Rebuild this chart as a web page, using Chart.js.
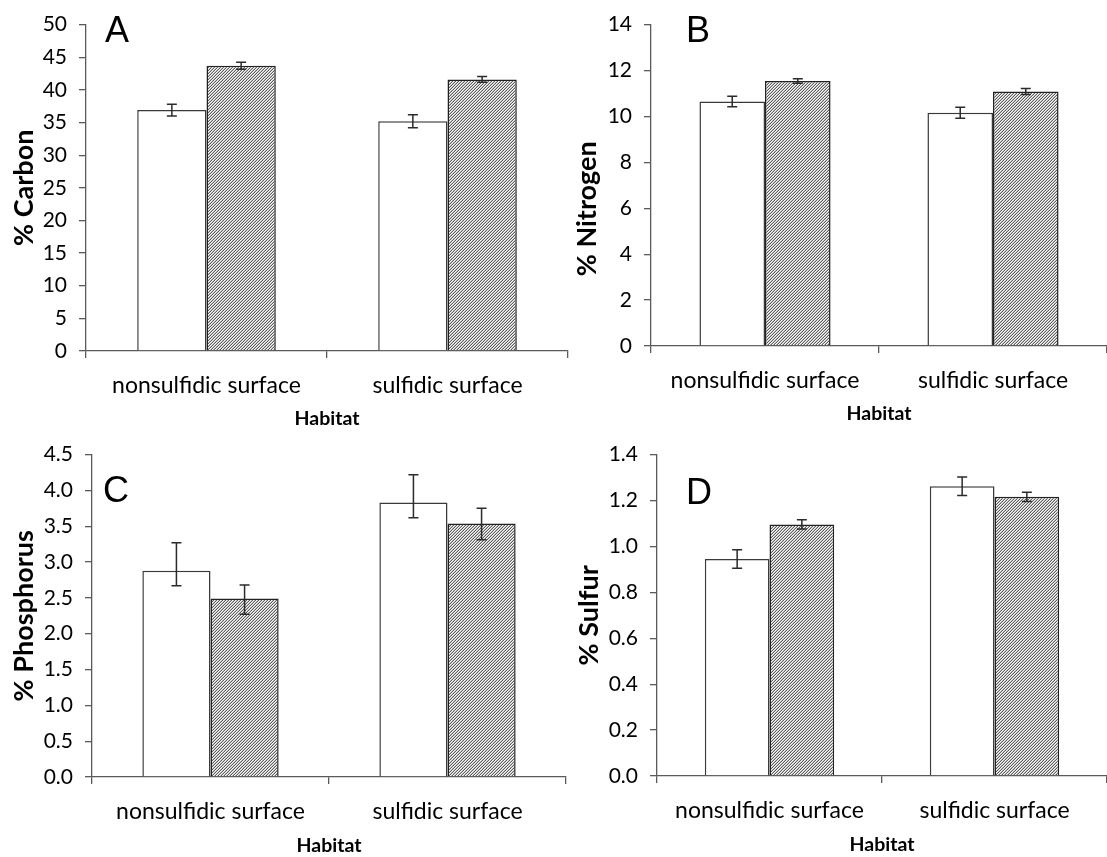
<!DOCTYPE html>
<html><head><meta charset="utf-8">
<script src="https://cdn.jsdelivr.net/npm/chart.js@4"></script>
<style>
html,body{margin:0;padding:0;background:#fff;}
body{width:1107px;height:857px;position:relative;overflow:hidden;}
canvas{position:absolute;}
.lbl{position:absolute;font-family:'Liberation Sans',Arial,sans-serif;font-size:36px;line-height:36px;color:#000;}
</style></head><body>
<canvas id="cA" width="575" height="430" style="left:0px;top:0px"></canvas>
<canvas id="cB" width="537" height="425" style="left:570px;top:0px"></canvas>
<canvas id="cC" width="575" height="427" style="left:0px;top:430px"></canvas>
<canvas id="cD" width="537" height="427" style="left:570px;top:430px"></canvas>
<div class="lbl" style="left:105px;top:12px">A</div>
<div class="lbl" style="left:686px;top:12px">B</div>
<div class="lbl" style="left:103px;top:472px">C</div>
<div class="lbl" style="left:686px;top:474px">D</div>
<script>
// ---- data ----
const categories = ['nonsulfidic surface', 'sulfidic surface'];
const xTitle = 'Habitat';

const carbonWhite = [36.9, 35.2];
const carbonHatched = [43.7, 41.6];
const carbonWhiteErrPlus = [0.9, 1.0];
const carbonWhiteErrMinus = [0.9, 1.0];
const carbonHatchedErrPlus = [0.55, 0.45];
const carbonHatchedErrMinus = [0.55, 0.45];
const carbonTicks = ['0','5','10','15','20','25','30','35','40','45','50'];

const nitrogenWhite = [10.65, 10.16];
const nitrogenHatched = [11.54, 11.09];
const nitrogenWhiteErrPlus = [0.23, 0.24];
const nitrogenWhiteErrMinus = [0.23, 0.24];
const nitrogenHatchedErrPlus = [0.1, 0.13];
const nitrogenHatchedErrMinus = [0.1, 0.13];
const nitrogenTicks = ['0','2','4','6','8','10','12','14'];

const phosphorusWhite = [2.88, 3.83];
const phosphorusHatched = [2.49, 3.54];
const phosphorusWhiteErrPlus = [0.39, 0.39];
const phosphorusWhiteErrMinus = [0.21, 0.21];
const phosphorusHatchedErrPlus = [0.19, 0.21];
const phosphorusHatchedErrMinus = [0.22, 0.23];
const phosphorusTicks = ['0.0','0.5','1.0','1.5','2.0','2.5','3.0','3.5','4.0','4.5'];

const sulfurWhite = [0.945, 1.262];
const sulfurHatched = [1.096, 1.216];
const sulfurWhiteErrPlus = [0.04, 0.04];
const sulfurWhiteErrMinus = [0.04, 0.04];
const sulfurHatchedErrPlus = [0.02, 0.02];
const sulfurHatchedErrMinus = [0.02, 0.02];
const sulfurTicks = ['0.0','0.2','0.4','0.6','0.8','1.0','1.2','1.4'];

// ---- hatch pattern ----
function makeHatch() {
  const t = document.createElement('canvas');
  t.width = 3; t.height = 3;
  const c = t.getContext('2d');
  const img = c.createImageData(3, 3);
  for (let y = 0; y < 3; y++) for (let x = 0; x < 3; x++) {
    const k = (x + y) % 3;
    let v = 246;
    if (k === 2) v = 95; else if (k === 1) v = 192;
    const i = (y * 3 + x) * 4;
    img.data[i] = img.data[i+1] = img.data[i+2] = v; img.data[i+3] = 255;
  }
  c.putImageData(img, 0, 0);
  return c.createPattern(t, 'repeat');
}
const hatch = makeHatch();

const errorBarPlugin = {
  id: 'errorBars',
  afterDatasetsDraw(chart, args, opts) {
    const ctx = chart.ctx;
    const ys = chart.scales.y;
    ctx.save();
    ctx.strokeStyle = '#2b2b2b';
    ctx.lineWidth = 1.5;
    chart.data.datasets.forEach((ds, di) => {
      const meta = chart.getDatasetMeta(di);
      meta.data.forEach((bar, i) => {
        const v = ds.data[i];
        const yt = ys.getPixelForValue(v + opts.plus[di][i]);
        const yb = ys.getPixelForValue(v - opts.minus[di][i]);
        const x = bar.x;
        ctx.beginPath();
        ctx.moveTo(x, yt); ctx.lineTo(x, yb);
        ctx.moveTo(x - 5, yt); ctx.lineTo(x + 5, yt);
        ctx.moveTo(x - 5, yb); ctx.lineTo(x + 5, yb);
        ctx.stroke();
      });
    });
    ctx.restore();
  }
};

const axisColor = '#5a5a5a';
const tickFont = { family: 'Lato', size: 21 };
const catFont = { family: 'Lato', size: 23 };

function makeChart(p) {
  new Chart(document.getElementById(p.id), {
    type: 'bar',
    data: {
      labels: categories,
      datasets: [
        { data: p.white, backgroundColor: '#ffffff', borderColor: '#3a3a3a', borderWidth: 1.5,
          categoryPercentage: 0.575, barPercentage: 1.0 },
        { data: p.hatched, backgroundColor: hatch, borderColor: '#222222', borderWidth: 1.5,
          categoryPercentage: 0.575, barPercentage: 1.0 }
      ]
    },
    options: {
      responsive: false,
      animation: false,
      events: [],
      layout: { padding: { top: p.padTop, right: p.padRight, left: 0, bottom: 0 } },
      plugins: {
        legend: { display: false },
        tooltip: { enabled: false },
        errorBars: { plus: p.plus, minus: p.minus }
      },
      scales: {
        x: {
          type: 'category',
          offset: true,
          grid: { display: true, drawOnChartArea: false, drawTicks: true, tickLength: 7,
                  color: axisColor, lineWidth: 1.3, offset: true },
          border: { display: true, color: axisColor, width: 1.3 },
          ticks: { font: catFont, color: '#000', padding: 14, maxRotation: 0, autoSkip: false },
          title: { display: true, text: xTitle, color: '#000',
                   font: { family: 'Lato', size: 19.5, weight: 'bold' }, padding: { top: 0, bottom: p.xTitlePad } },
          afterFit(s) { s.height = p.xH; }
        },
        y: {
          min: 0, max: p.max,
          grid: { display: true, drawOnChartArea: false, drawTicks: true, tickLength: 7,
                  color: axisColor, lineWidth: 1.3 },
          border: { display: true, color: axisColor, width: 1.3 },
          ticks: { stepSize: p.step, font: tickFont, color: '#000', padding: 12,
                   callback: (v, i) => p.ticks[i] !== undefined ? p.ticks[i] : v },
          title: { display: true, text: p.title, color: '#000',
                   font: { family: 'Lato', size: 27, weight: 'bold' }, padding: { top: p.yTitlePad, bottom: 0 } },
          afterFit(s) { s.width = p.yW; }
        }
      }
    },
    plugins: [errorBarPlugin]
  });
}

makeChart({ id: 'cA', title: '% Carbon', white: carbonWhite, hatched: carbonHatched,
  plus: [carbonWhiteErrPlus, carbonHatchedErrPlus], minus: [carbonWhiteErrMinus, carbonHatchedErrMinus],
  max: 50, step: 5, ticks: carbonTicks, yW: 86, xH: 79, padTop: 16, padRight: 7, yTitlePad: 8, xTitlePad: 0 });
makeChart({ id: 'cB', title: '% Nitrogen\u2003\u2003 ', white: nitrogenWhite, hatched: nitrogenHatched,
  plus: [nitrogenWhiteErrPlus, nitrogenHatchedErrPlus], minus: [nitrogenWhiteErrMinus, nitrogenHatchedErrMinus],
  max: 14, step: 2, ticks: nitrogenTicks, yW: 81, xH: 79, padTop: 16, padRight: 0, yTitlePad: 1, xTitlePad: 0 });
makeChart({ id: 'cC', title: '% Phosphorus', white: phosphorusWhite, hatched: phosphorusHatched,
  plus: [phosphorusWhiteErrPlus, phosphorusHatchedErrPlus], minus: [phosphorusWhiteErrMinus, phosphorusHatchedErrMinus],
  max: 4.5, step: 0.5, ticks: phosphorusTicks, yW: 92, xH: 80, padTop: 21, padRight: 9, yTitlePad: 8, xTitlePad: 0 });
makeChart({ id: 'cD', title: '% Sulfur', white: sulfurWhite, hatched: sulfurHatched,
  plus: [sulfurWhiteErrPlus, sulfurHatchedErrPlus], minus: [sulfurWhiteErrMinus, sulfurHatchedErrMinus],
  max: 1.4, step: 0.2, ticks: sulfurTicks, yW: 87, xH: 81, padTop: 20, padRight: 0, yTitlePad: 3, xTitlePad: 1 });
</script>
</body></html>
